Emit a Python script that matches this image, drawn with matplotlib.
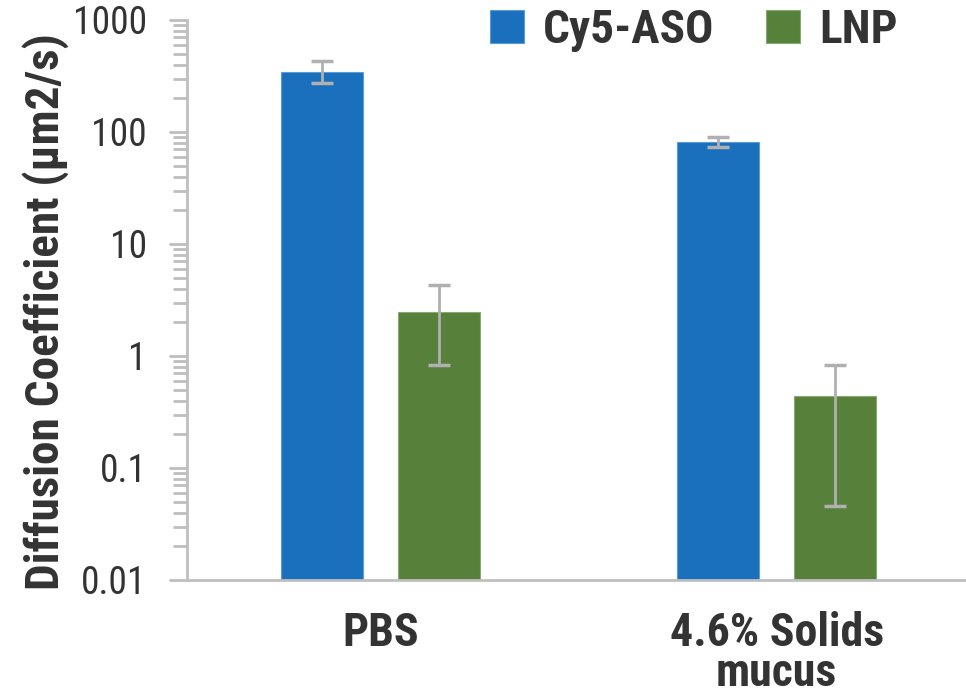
import matplotlib.pyplot as plt
from matplotlib import font_manager
from matplotlib.ticker import FixedLocator, FuncFormatter
import numpy as np

# data (log scale)
groups = ['PBS', '4.6% Solids\nmucus']
series = ['Cy5-ASO', 'LNP']
aso_mean = [343, 81.5]
aso_lo = [274, 73]
aso_hi = [430, 90]
lnp_mean = [2.47, 0.44]
lnp_lo = [0.83, 0.046]
lnp_hi = [4.3, 0.83]

blue = '#1b70bd'
green = '#57813a'
grey = '#b0b0b0'
txt = '#333333'

# narrow sans with a real bold face if one is around, else Liberation Sans
def has_bold(name):
    for f in font_manager.fontManager.ttflist:
        if f.name == name and f.style == 'normal':
            wt = f.weight if isinstance(f.weight, int) else font_manager.weight_dict.get(f.weight, 400)
            if wt >= 700:
                return True
    return False

fam = 'Liberation Sans'
for cand in ['Arial Narrow', 'Liberation Sans Narrow', 'Roboto Condensed', 'Archivo Narrow',
             'Pragati Narrow', 'PT Sans Narrow', 'Fira Sans Condensed',
             'IBM Plex Sans Condensed', 'Encode Sans Condensed']:
    if has_bold(cand):
        fam = cand
        break
plt.rcParams['font.family'] = [fam, 'DejaVu Sans']

fig = plt.figure(figsize=(9.66, 7), dpi=100)
ax = fig.add_axes([187/966, 120/700, 1 - 187/966, 560/700])

x = np.arange(len(groups))
w = 0.207
off = 0.1475

def errs(m, lo, hi):
    m = np.array(m)
    return [m - np.array(lo), np.array(hi) - m]

ax.bar(x - off, aso_mean, w, color=blue, edgecolor='#5b9bd5', linewidth=0.8, label=series[0])
ax.bar(x + off, lnp_mean, w, color=green, edgecolor='#8aa874', linewidth=0.8, label=series[1])
ax.errorbar(x - off, aso_mean, yerr=errs(aso_mean, aso_lo, aso_hi), fmt='none',
            ecolor=grey, elinewidth=2, capsize=8, capthick=2.5)
ax.errorbar(x + off, lnp_mean, yerr=errs(lnp_mean, lnp_lo, lnp_hi), fmt='none',
            ecolor=grey, elinewidth=2, capsize=8, capthick=2.5)

ax.set_yscale('log')
ax.set_ylim(0.01, 1000)
ax.set_xlim(-0.488, 1.478)
ax.yaxis.set_major_locator(FixedLocator([0.01, 0.1, 1, 10, 100, 1000]))
ax.yaxis.set_major_formatter(FuncFormatter(lambda v, p: '%g' % v))

for s in ['top', 'right']:
    ax.spines[s].set_visible(False)
for s in ['left', 'bottom']:
    ax.spines[s].set_color('#bfbfbf')
    ax.spines[s].set_linewidth(2)

ax.tick_params(axis='y', which='major', length=13, width=2, color='#bfbfbf',
               labelsize=27, labelcolor=txt, pad=16)
ax.tick_params(axis='y', which='minor', length=10, width=2, color='#bfbfbf')
ax.set_xticks(x)
ax.set_xticklabels(groups, fontsize=33, fontweight='bold', color=txt, linespacing=0.9)
ax.tick_params(axis='x', length=0, pad=22)

ax.set_ylabel('Diffusion Coefficient (µm2/s)', fontsize=34, fontweight='bold', color=txt)
ax.yaxis.set_label_coords(-0.152, 0.48)

leg = ax.legend(loc='upper left', bbox_to_anchor=(490/966, 1 - 8/700),
                bbox_transform=fig.transFigure, ncol=2, frameon=False,
                borderaxespad=0, borderpad=0, handlelength=0.72, handleheight=0.72,
                handletextpad=0.4, columnspacing=1.1,
                prop={'size': 34, 'weight': 'bold'})
for t in leg.get_texts():
    t.set_color(txt)

fig.savefig('out.png', dpi=100)
